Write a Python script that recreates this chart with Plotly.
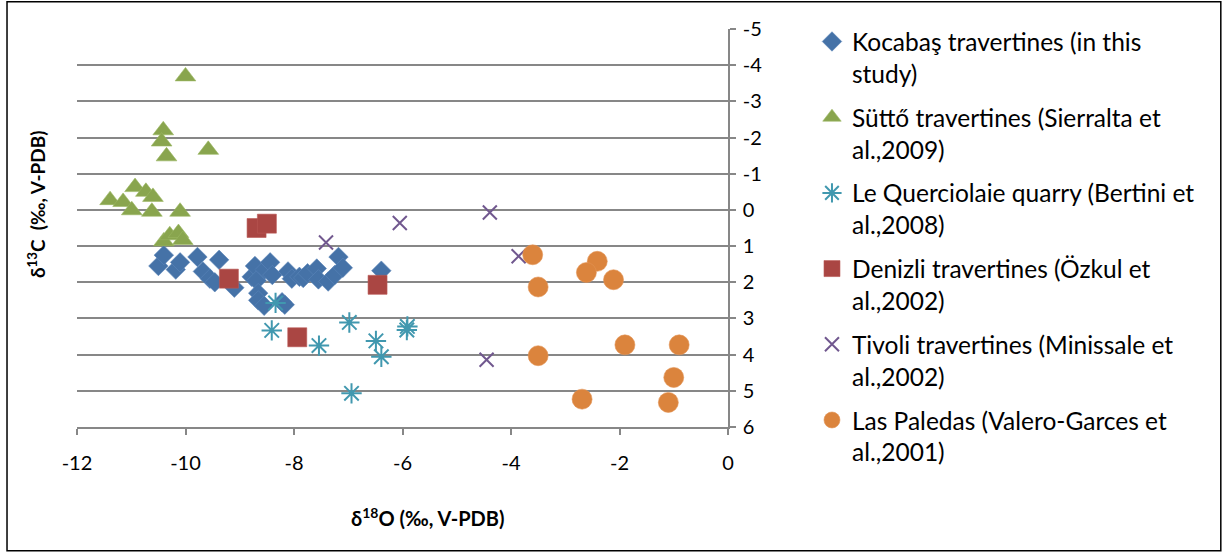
import plotly.graph_objects as go

# δ18O / δ13C pairs (‰, V-PDB) for each travertine dataset
kocabas_d18O = [-10.50, -10.40, -10.18, -10.10, -9.78, -9.68, -9.55, -9.46, -9.38, -9.10,
                -8.78, -8.72, -8.69, -8.66, -8.66, -8.55, -8.54, -8.44, -8.40, -8.22,
                -8.17, -8.11, -8.04, -7.90, -7.83, -7.75, -7.58, -7.55, -7.37, -7.25,
                -7.18, -7.10, -6.39]
kocabas_d13C = [1.55, 1.25, 1.65, 1.45, 1.30, 1.70, 1.90, 2.00, 1.38, 2.15,
                1.85, 1.55, 1.95, 2.30, 2.50, 2.65, 1.65, 1.45, 1.80, 2.55,
                2.62, 1.70, 1.90, 1.85, 1.88, 1.75, 1.62, 1.92, 1.98, 1.80,
                1.30, 1.60, 1.68]

sutto_d18O = [-10.00, -10.41, -10.44, -10.35, -9.58, -11.39, -11.15, -10.93, -10.99, -10.73,
              -10.60, -10.62, -10.10, -10.40, -10.29, -10.13, -10.05]
sutto_d13C = [-3.69, -2.20, -1.89, -1.48, -1.66, -0.27, -0.22, -0.63, 0.01, -0.50,
              -0.36, 0.05, 0.05, 0.87, 0.70, 0.64, 0.83]

querciolaie_d18O = [-8.34, -8.41, -7.54, -6.98, -6.49, -6.39, -5.91, -5.92, -6.94]
querciolaie_d13C = [2.57, 3.33, 3.75, 3.11, 3.62, 4.06, 3.22, 3.32, 5.07]

denizli_d18O = [-8.69, -8.50, -9.20, -6.46, -7.94]
denizli_d13C = [0.50, 0.38, 1.90, 2.07, 3.52]

tivoli_d18O = [-7.41, -6.05, -4.39, -3.86, -4.45]
tivoli_d13C = [0.90, 0.36, 0.07, 1.28, 4.14]

paledas_d18O = [-3.60, -3.50, -2.41, -2.61, -2.11, -3.50, -1.90, -0.90, -1.00, -2.69, -1.10]
paledas_d13C = [1.24, 2.13, 1.42, 1.73, 1.93, 4.03, 3.73, 3.73, 4.63, 5.23, 5.32]

series_names = [
    "Kocabaş travertines (in this<br>study)",
    "Süttő travertines (Sierralta et<br>al.,2009)",
    "Le Querciolaie quarry (Bertini et<br>al.,2008)",
    "Denizli travertines (Özkul et<br>al.,2002)",
    "Tivoli travertines (Minissale et<br>al.,2002)",
    "Las Paledas (Valero-Garces et<br>al.,2001)",
]

# axis tick values and their printed labels (plain hyphen minus)
x_ticks = [-12, -10, -8, -6, -4, -2, 0]
x_tick_labels = ["-12", "-10", "-8", "-6", "-4", "-2", "0"]
y_ticks = [-5, -4, -3, -2, -1, 0, 1, 2, 3, 4, 5, 6]
y_tick_labels = ["-5", "-4", "-3", "-2", "-1", "0", "1", "2", "3", "4", "5", "6"]

FONT = "Lato, 'Open Sans', sans-serif"
GRID = "#878787"

fig = go.Figure()

fig.add_trace(go.Scatter(
    x=kocabas_d18O, y=kocabas_d13C, mode="markers", name=series_names[0],
    marker=dict(symbol="diamond", size=15, color="#4572A7",
                line=dict(width=0.6, color="#5a84b8")),
    legendgroup="g1"))
fig.add_trace(go.Scatter(
    x=sutto_d18O, y=sutto_d13C, mode="markers", name=series_names[1],
    marker=dict(symbol="triangle-up", size=18, color="#89A54E",
                line=dict(width=0.6, color="#9bb762")),
    legendgroup="g2"))
fig.add_trace(go.Scatter(
    x=querciolaie_d18O, y=querciolaie_d13C, mode="markers", name=series_names[2],
    marker=dict(symbol="asterisk-open", size=17, color="#4198AF",
                line=dict(width=2, color="#4198AF")),
    legendgroup="g3"))
fig.add_trace(go.Scatter(
    x=denizli_d18O, y=denizli_d13C, mode="markers", name=series_names[3],
    marker=dict(symbol="square", size=19, color="#AA4643",
                line=dict(width=0.6, color="#bb5956")),
    legendgroup="g4"))
fig.add_trace(go.Scatter(
    x=tivoli_d18O, y=tivoli_d13C, mode="markers", name=series_names[4],
    marker=dict(symbol="x-thin-open", size=14, color="#71588F",
                line=dict(width=2, color="#71588F")),
    legendgroup="g5"))
fig.add_trace(go.Scatter(
    x=paledas_d18O, y=paledas_d13C, mode="markers", name=series_names[5],
    marker=dict(symbol="circle", size=20, color="#DB843D",
                line=dict(width=0.6, color="#e39455")),
    legendgroup="g6"))

fig.update_layout(
    width=1227, height=556,
    margin=dict(l=77, r=499, t=29, b=129),
    paper_bgcolor="white", plot_bgcolor="white",
    font=dict(family=FONT, color="#000000"),
    showlegend=True,
    legend=dict(
        x=1.129, y=1.025, xanchor="left", yanchor="top",
        font=dict(family=FONT, size=24.5, color="#000000"),
        valign="top", tracegroupgap=9, itemwidth=30,
        maxheight=1.0,
        bgcolor="rgba(0,0,0,0)",
    ),
    xaxis=dict(
        range=[-12, 0], tickmode="array", tickvals=x_ticks, ticktext=x_tick_labels,
        showgrid=False, zeroline=False,
        showline=True, linecolor=GRID, linewidth=1.5,
        ticks="outside", ticklen=6, tickwidth=1.5, tickcolor=GRID,
        tickfont=dict(family=FONT, size=20, color="#000000"),
        ticklabelstandoff=11,
    ),
    yaxis=dict(
        range=[6, -5], tickmode="array", tickvals=y_ticks, ticktext=y_tick_labels,
        side="right",
        showgrid=True, gridcolor=GRID, gridwidth=1.5, zeroline=False,
        showline=True, linecolor=GRID, linewidth=1.5,
        ticks="outside", ticklen=6, tickwidth=1.5, tickcolor=GRID,
        tickfont=dict(family=FONT, size=20, color="#000000"),
        ticklabelstandoff=3,
    ),
    annotations=[
        dict(text="<b>δ<sup>18</sup>O (‰, V-PDB)</b>", xref="paper", yref="paper",
             x=0.539, y=-0.225, xanchor="center", yanchor="middle", showarrow=False,
             font=dict(family=FONT, size=20, color="#000000")),
        dict(text="<b>δ<sup>13</sup>C  (‰, V-PDB)</b>", xref="paper", yref="paper",
             x=-0.063, y=0.56, xanchor="center", yanchor="middle", showarrow=False,
             textangle=-90, font=dict(family=FONT, size=19, color="#000000")),
    ],
    shapes=[
        dict(type="rect", xref="paper", yref="paper",
             x0=-0.1075, x1=1.757, y0=-0.311, y1=1.0686,
             line=dict(color="#000000", width=1.5), fillcolor="rgba(0,0,0,0)",
             layer="below"),
    ],
)

fig.write_html("out.html")
